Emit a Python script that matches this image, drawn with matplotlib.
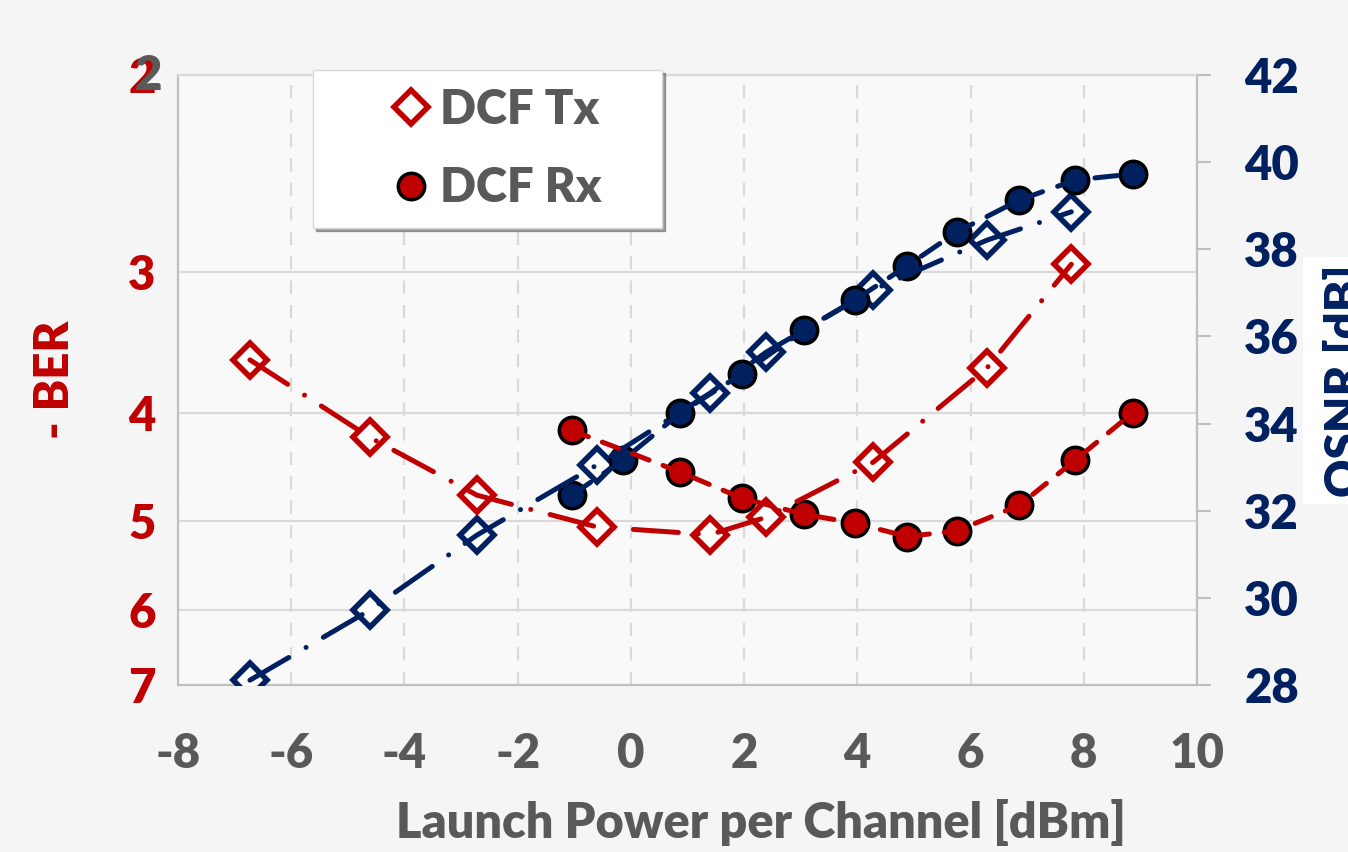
import matplotlib
matplotlib.use("Agg")
import matplotlib.pyplot as plt
from matplotlib.ticker import FixedLocator, FixedFormatter, NullLocator
from matplotlib.patches import Rectangle

plt.rcParams['font.family'] = ['Lato', 'DejaVu Sans']
plt.rcParams['font.weight'] = 'heavy'
plt.rcParams['axes.unicode_minus'] = False

# ---- data ----
x_tx = [-6.73, -4.61, -2.72, -0.60, 1.40, 2.39, 4.28, 6.29, 7.78]
ber_tx = [3.59, 4.21, 4.74, 5.06, 5.14, 4.96, 4.43, 3.65, 2.95]
osnr_tx = [28.11, 29.72, 31.44, 33.05, 34.70, 35.64, 37.07, 38.21, 38.86]

x_rx_ber = [-1.04, 0.87, 1.96, 3.06, 3.96, 4.88, 5.76, 6.86, 7.85, 8.87]
ber_rx = [4.15, 4.52, 4.77, 4.93, 5.02, 5.16, 5.10, 4.84, 4.41, 4.00]
x_rx_osnr = [-1.04, -0.14, 0.87, 1.96, 3.06, 3.96, 4.88, 5.76, 6.86, 7.85, 8.87]
osnr_rx = [32.36, 33.16, 34.24, 35.14, 36.15, 36.84, 37.62, 38.40, 39.13, 39.59, 39.73]

x_ticks = [-8, -6, -4, -2, 0, 2, 4, 6, 8, 10]
ber_ticks = [2, 3, 4, 5, 6, 7]
osnr_ticks = [28, 30, 32, 34, 36, 38, 40, 42]

RED = '#C00000'
NAVY = '#002060'
GRAY = '#595959'
GRID = '#D9D9D9'
SPINE = '#BFBFBF'
WEIGHT = 'heavy'

W, H = 1348, 852
fig = plt.figure(figsize=(W / 100, H / 100), dpi=100, facecolor='#f5f5f5')
pos = [178 / W, 1 - 685 / H, (1197 - 178) / W, (685 - 75) / H]

# base axis: BER (left) + grid
ax = fig.add_axes(pos)
ax.set_facecolor('#f9f9f9')
ax.set_xlim(-8, 10)
ax.set_yscale('log')
ax.set_ylim(7, 2)
ax.xaxis.set_major_locator(FixedLocator(x_ticks))
ax.xaxis.set_major_formatter(FixedFormatter([str(t) for t in x_ticks]))
ax.yaxis.set_major_locator(FixedLocator(ber_ticks))
ax.yaxis.set_major_formatter(FixedFormatter([str(t) for t in ber_ticks]))
ax.yaxis.set_minor_locator(NullLocator())
ax.tick_params(axis='x', length=0, pad=34, labelsize=34, labelcolor=GRAY)
ax.tick_params(axis='y', length=0, pad=16, labelsize=34, labelcolor=RED)
for lab in ax.get_xticklabels() + ax.get_yticklabels():
    lab.set_fontweight(WEIGHT)
ax.grid(axis='y', color=GRID, lw=1.6, zorder=0)
ax.grid(axis='x', color=GRID, lw=1.6, dashes=(6, 5), zorder=0)
for s in ax.spines.values():
    s.set_color(SPINE)
    s.set_linewidth(1.6)
ax.spines['top'].set_color(GRID)

# duplicated grey "2" seen on the top tick
ax.annotate('2', xy=(0, 2), xycoords=ax.get_yaxis_transform(),
            xytext=(-16, 3), textcoords='offset pixels', ha='right',
            va='center_baseline', fontsize=34, color=GRAY, fontweight=WEIGHT)

# OSNR axis (right)
ax2 = ax.twinx()
ax2.set_ylim(28, 42)
ax2.yaxis.set_major_locator(FixedLocator(osnr_ticks))
ax2.yaxis.set_major_formatter(FixedFormatter([str(t) for t in osnr_ticks]))
ax2.tick_params(axis='y', direction='out', length=10, width=1.5, color=SPINE,
                pad=24, labelsize=34, labelcolor=NAVY)
for lab in ax2.get_yticklabels():
    lab.set_fontweight(WEIGHT)
for s in ax2.spines.values():
    s.set_visible(False)

ax2.plot(x_tx, osnr_tx, ls='none', marker='D', ms=17, mfc='white', mec=NAVY,
         mew=4, zorder=3)
ax2.plot(x_tx, osnr_tx, color=NAVY, lw=3.6, dashes=(9, 4, 0.01, 4),
         dash_capstyle='round', zorder=4)
ax2.plot(x_rx_osnr, osnr_rx, ls='none', marker='o', ms=19, mfc=NAVY, mec='black',
         mew=2.5, zorder=3)
ax2.plot(x_rx_osnr, osnr_rx, color=NAVY, lw=3.6, dashes=(4.5, 3.2),
         dash_capstyle='round', zorder=4)

# overlay for red BER series (drawn on top)
ax3 = fig.add_axes(pos, sharex=ax, sharey=ax)
ax3.set_axis_off()
ax3.patch.set_visible(False)

ax3.plot(x_tx, ber_tx, ls='none', marker='D', ms=17, mfc='white', mec=RED,
         mew=4, zorder=3, label='DCF Tx')
ax3.plot(x_tx, ber_tx, color=RED, lw=3.6, dashes=(9, 4, 0.01, 4),
         dash_capstyle='round', zorder=4)
ax3.plot(x_rx_ber, ber_rx, ls='none', marker='o', ms=19, mfc=RED, mec='black',
         mew=2.5, zorder=3, label='DCF Rx')
ax3.plot(x_rx_ber, ber_rx, color=RED, lw=3.6, dashes=(3.5, 3),
         dash_capstyle='round', zorder=4)

leg = ax3.legend(loc='upper left', bbox_to_anchor=(313 / W, 1 - 228 / H, 349 / W, 158 / H),
                 bbox_transform=fig.transFigure, mode='expand', borderaxespad=0,
                 fontsize=34, borderpad=0.38, labelspacing=0.73, handlelength=3.4,
                 handletextpad=-1.1, frameon=True, fancybox=False, shadow=True,
                 facecolor='white', edgecolor=GRID, framealpha=1)
for t in leg.get_texts():
    t.set_color(GRAY)
    t.set_fontweight(WEIGHT)
leg.set_zorder(10)

# axis labels
fig.text(761 / W, 1 - 838 / H, 'Launch Power per Channel [dBm]', ha='center',
         va='baseline', fontsize=35, color=GRAY, fontweight=WEIGHT)
fig.text(55 / W, 1 - 380 / H, '- BER', rotation=90, ha='center', va='center',
         fontsize=34, color=RED, fontweight=WEIGHT)
fig.patches.append(Rectangle((1303 / W, 1 - 504 / H), 60 / W, 247 / H,
                             transform=fig.transFigure, facecolor='white',
                             edgecolor='none', zorder=1))
fig.text(1323 / W, 1 - 381 / H, 'OSNR [dB]', rotation=90, ha='left', va='center',
         fontsize=34, color=NAVY, fontweight=WEIGHT, zorder=2)

fig.savefig('out.png', dpi=100, facecolor=fig.get_facecolor())
